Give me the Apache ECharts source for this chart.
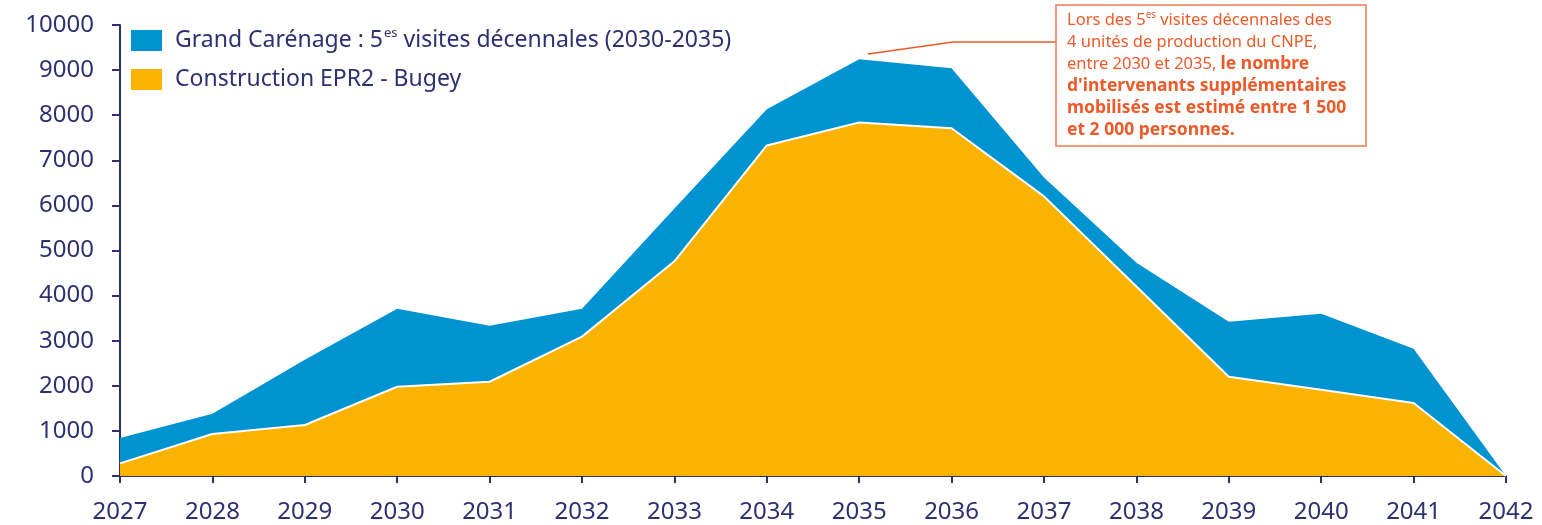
<!DOCTYPE html>
<html>
<head>
<meta charset="utf-8">
<script src="https://cdn.jsdelivr.net/npm/echarts@6/dist/echarts.min.js"></script>
<style>
    html, body {margin: 0; padding: 0; background: #fff;}
    #chart {width: 1542px; height: 525px;}
</style>
</head>
<body>
<div id="chart"></div>
<script>
// years on the x axis
const years = ['2027', '2028', '2029', '2030', '2031', '2032', '2033', '2034',
    '2035', '2036', '2037', '2038', '2039', '2040', '2041', '2042'];
// Construction EPR2 - Bugey (bottom layer)
const epr2 = [280, 930, 1130, 1980, 2090, 3090, 4760, 7330, 7840, 7710, 6200, 4200, 2200, 1910, 1620, 0];
// Grand Carénage, stacked on top of EPR2
const grandCarenage = [560, 450, 1450, 1730, 1240, 620, 1170, 800, 1400, 1330, 420, 530, 1220, 1690, 1200, 0];
const yTicks = [0, 10000, 1000];

const NAVY = '#2d3170';
const BLUE = '#0093d2';
const YELLOW = '#f9b300';
const ORANGE = '#ec5a2a';
const FONT = 'Noto Sans';

const chart = echarts.init(document.getElementById('chart'));

const option = {
    animation: false,
    textStyle: {fontFamily: FONT},
    grid: {left: 120, right: 36, top: 25, bottom: 49},
    legend: {
        orient: 'vertical',
        left: 131,
        top: 27,
        padding: 0,
        itemWidth: 31,
        itemHeight: 21,
        itemGap: 16,
        icon: 'rect',
        data: ['Grand Carénage', 'Construction EPR2 - Bugey'],
        formatter: name => name === 'Grand Carénage'
            ? '{t|Grand Carénage : 5}{s|es}{t|visites décennales (2030-2035)}'
            : '{t|' + name + '}',
        textStyle: {
            color: NAVY,
            fontSize: 23,
            fontFamily: FONT,
            padding: [0, 0, 0, 8],
            rich: {
                t: {fontSize: 23, color: NAVY, fontFamily: FONT},
                s: {fontSize: 13, color: NAVY, fontFamily: FONT, padding: [0, 6, 14, 1]}
            }
        }
    },
    xAxis: {
        type: 'category',
        boundaryGap: false,
        data: years,
        axisLine: {lineStyle: {color: NAVY, width: 2}},
        axisTick: {show: true, length: 7, lineStyle: {color: NAVY, width: 2}},
        axisLabel: {color: NAVY, fontSize: 24, margin: 24, fontFamily: FONT},
        splitLine: {show: false}
    },
    yAxis: {
        type: 'value',
        min: yTicks[0],
        max: yTicks[1],
        interval: yTicks[2],
        axisLine: {show: true, lineStyle: {color: NAVY, width: 2}},
        axisTick: {show: true, length: 8, lineStyle: {color: NAVY, width: 2}},
        axisLabel: {color: NAVY, fontSize: 24, margin: 26, fontFamily: FONT, formatter: v => String(v)},
        splitLine: {show: false}
    },
    series: [
        {
            name: 'Construction EPR2 - Bugey',
            type: 'line',
            stack: 'total',
            data: epr2,
            symbol: 'none',
            z: 3,
            itemStyle: {color: YELLOW},
            lineStyle: {color: '#ffffff', width: 2},
            areaStyle: {color: YELLOW, opacity: 1}
        },
        {
            name: 'Grand Carénage',
            type: 'line',
            stack: 'total',
            data: grandCarenage,
            symbol: 'none',
            z: 2,
            itemStyle: {color: BLUE},
            lineStyle: {width: 0},
            areaStyle: {color: BLUE, opacity: 1}
        }
    ],
    graphic: [
        {
            // leader line to the peak
            type: 'polyline',
            shape: {points: [[868, 54], [953, 42], [1056, 42]]},
            style: {stroke: ORANGE, lineWidth: 1.5, fill: null},
            z: 10
        },
        {
            type: 'rect',
            shape: {x: 1056, y: 5, width: 310, height: 141},
            style: {stroke: '#ef7a52', lineWidth: 1.5, fill: '#ffffff'},
            z: 10
        },
        {
            type: 'text',
            left: 1067,
            top: 9,
            z: 11,
            style: {
                text: '{n|Lors des 5}{s|es}{n|visites décennales des}\n' +
                    '{n|4 unités de production du CNPE,}\n' +
                    '{n|entre 2030 et 2035, }{b|le nombre}\n' +
                    '{b|d\'intervenants supplémentaires}\n' +
                    '{b|mobilisés est estimé entre 1 500}\n' +
                    '{b|et 2 000 personnes.}',
                fill: ORANGE,
                font: '16px "' + FONT + '"',
                lineHeight: 22,
                rich: {
                    n: {fontSize: 16.5, fill: ORANGE, fontFamily: FONT, lineHeight: 22},
                    s: {fontSize: 10, fill: ORANGE, fontFamily: FONT, lineHeight: 22, padding: [0, 4, 10, 0]},
                    b: {fontSize: 17.5, fill: ORANGE, fontWeight: 'bold', fontFamily: FONT, lineHeight: 22}
                }
            }
        }
    ]
};

chart.setOption(option);
</script>
</body>
</html>
